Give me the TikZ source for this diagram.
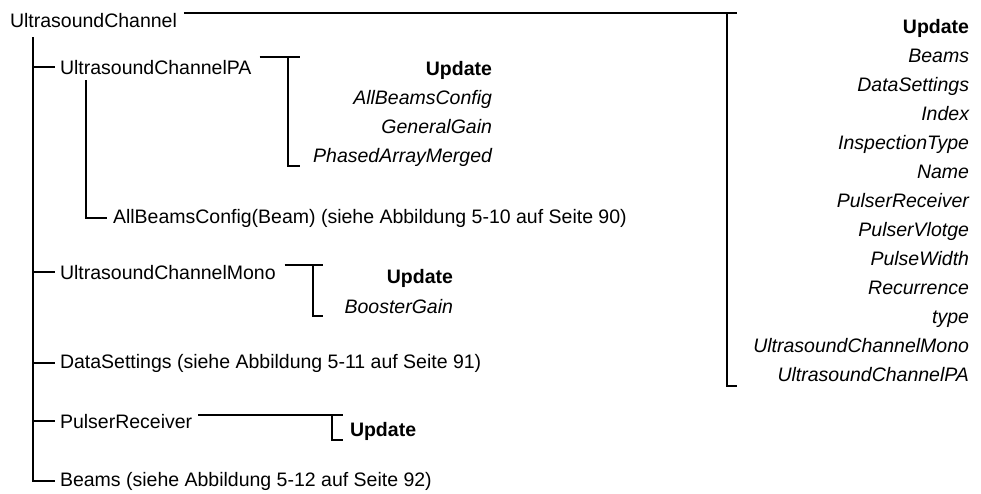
\documentclass[tikz,border=0pt]{standalone}
\usepackage{fontspec}
\setmainfont{Liberation Sans}
\begin{document}
\begin{tikzpicture}[x=1pt,y=-1pt,
  wire/.style={line width=2pt},
  lbl/.style={font=\fontsize{19.5}{23}\selectfont, inner sep=0pt, outer sep=0pt},
  itl/.style={lbl, font=\fontsize{19.5}{23}\selectfont\itshape},
  bfl/.style={lbl, font=\fontsize{19.5}{23}\selectfont\bfseries}]
\useasboundingbox (0,0) rectangle (981,493);

% tree labels
\node[lbl, anchor=base west] (root)  at (10,27)  {UltrasoundChannel};
\node[lbl, anchor=base west] (pa)    at (60,74)  {UltrasoundChannelPA};
\node[lbl, anchor=base west] (abc)   at (113,223) {AllBeamsConfig(Beam) (siehe Abbildung 5-10 auf Seite 90)};
\node[lbl, anchor=base west] (mono)  at (60,279) {UltrasoundChannelMono};
\node[lbl, anchor=base west] (ds)    at (60,368) {DataSettings (siehe Abbildung 5-11 auf Seite 91)};
\node[lbl, anchor=base west] (pr)    at (60,428) {PulserReceiver};
\node[lbl, anchor=base west] (beams) at (60,486) {Beams (siehe Abbildung 5-12 auf Seite 92)};

% tree connectors
\coordinate (trunk) at (33,37);
\draw[wire] (trunk) |- ([xshift=-5pt]beams.west);
\draw[wire] (trunk |- pa.west) -- ([xshift=-5pt]pa.west);
\draw[wire] (trunk |- mono.west) -- ([xshift=-5pt]mono.west);
\draw[wire] (trunk |- ds.west) -- ([xshift=-5pt]ds.west);
\draw[wire] (trunk |- pr.west) -- ([xshift=-5pt]pr.west);
\coordinate (stem) at (86,80);
\draw[wire] (stem) |- ([xshift=-6pt]abc.west);

% root bracket and method list
\coordinate (rT) at (737,13);
\coordinate (rV) at (727,13);
\coordinate (rB) at (737,386);
\draw[wire] ([xshift=7pt]root.east |- rT) -- (rT);
\draw[wire] (rV) |- (rB);
\node[bfl, anchor=base east] (rUpd) at (969,33) {Update};
\foreach [count=\i] \t in {Beams,DataSettings,Index,InspectionType,Name,PulserReceiver,PulserVlotge,PulseWidth,Recurrence,type,UltrasoundChannelMono,UltrasoundChannelPA}
  \node[itl, anchor=base east] (r\i) at (969,{33+29*\i}) {\t};

% PA bracket
\coordinate (paT) at (300,57);
\coordinate (paV) at (288,57);
\coordinate (paB) at (300,166);
\draw[wire] ([xshift=8pt]pa.east |- paT) -- (paT);
\draw[wire] (paV) |- (paB);
\node[bfl, anchor=base east] (paUpd) at (492,75) {Update};
\node[itl, anchor=base east] (pa1) at (492,104) {AllBeamsConfig};
\node[itl, anchor=base east] (pa2) at (492,133) {GeneralGain};
\node[itl, anchor=base east] (pa3) at (492,162) {PhasedArrayMerged};

% Mono bracket
\coordinate (mT) at (323,265);
\coordinate (mV) at (313,265);
\coordinate (mB) at (323,316);
\draw[wire] ([xshift=9pt]mono.east |- mT) -- (mT);
\draw[wire] (mV) |- (mB);
\node[bfl, anchor=base east] (mUpd) at (453,283) {Update};
\node[itl, anchor=base east] (m1) at (453,313) {BoosterGain};

% PulserReceiver bracket
\coordinate (prT) at (343,415);
\coordinate (prV) at (332,415);
\coordinate (prB) at (343,440);
\draw[wire] ([xshift=6pt]pr.east |- prT) -- (prT);
\draw[wire] (prV) |- (prB);
\node[bfl, anchor=base west] (prUpd) at (350,436) {Update};
\end{tikzpicture}
\end{document}
